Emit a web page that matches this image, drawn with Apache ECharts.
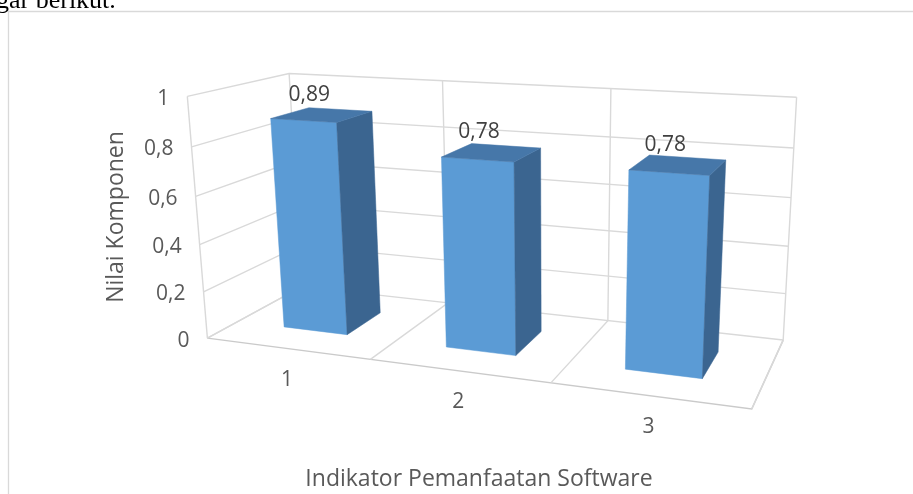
<!DOCTYPE html>
<html>
<head>
<meta charset="utf-8">
<script src="https://cdn.jsdelivr.net/npm/echarts@6/dist/echarts.min.js"></script>
<style>
  html, body { margin: 0; padding: 0; background: #ffffff; }
  #chart { width: 913px; height: 494px; }
</style>
</head>
<body>
<div id="chart"></div>
<script>
// ---- data ----
const categories = ['1', '2', '3'];
const values = [0.89, 0.78, 0.78];
const yTicks = [0, 0.2, 0.4, 0.6, 0.8, 1];
const xAxisTitle = 'Indikator Pemanfaatan Software';
const yAxisTitle = 'Nilai Komponen';

// ---- 3D scene settings ----
// plot box (back wall, side wall, floor) in world units
const BOX = { width: 2.25, height: 1, depth: 0.75 };
const GAP = 1.5;              // gap width and gap depth, 150%
// camera: rotation (degrees), focal length and position
const CAM = { yaw: 19, pitch: 15.5, focal: 1180, cx: 553, cy: 247, dist: 5.5527, panX: -1.182, panY: -0.1865 };

const FONT = '"Open Sans", "Noto Sans", sans-serif';
const GRID_COLOR = '#D9D9D9';
const EDGE_COLOR = '#CACACA';
const TEXT_COLOR = '#595959';
const LABEL_COLOR = '#404040';
const FACE = { front: '#5B9BD5', side: '#3B6590', top: '#4677A9' };

const rad = Math.PI / 180;
function project(X, Y, Z) {
  const cb = Math.cos(CAM.yaw * rad), sb = Math.sin(CAM.yaw * rad);
  const ca = Math.cos(CAM.pitch * rad), sa = Math.sin(CAM.pitch * rad);
  const x1 = X * cb - Z * sb;
  const z1 = X * sb + Z * cb;
  const y2 = Y * ca - z1 * sa;
  const z2 = Y * sa + z1 * ca;
  const depth = CAM.dist - z2;
  return [CAM.cx + CAM.focal * (x1 + CAM.panX) / depth,
          CAM.cy - CAM.focal * (y2 + CAM.panY) / depth];
}

// flat cartesian pixel -> world (X along categories, Y along values)
function toWorld(cs, pt) {
  return [(pt[0] - cs.x) / cs.width * BOX.width,
          (cs.y + cs.height - pt[1]) / cs.height * BOX.height];
}

const fmtValue = v => v.toFixed(2).replace('.', ',');
const fmtTick = v => String(+v.toFixed(1)).replace('.', ',');

function line(points, color, width) {
  return { type: 'polyline', shape: { points }, style: { stroke: color, lineWidth: width, fill: null } };
}
function label(x, y, text, opts) {
  return {
    type: 'text', x, y,
    style: Object.assign({ text, fill: TEXT_COLOR, fontFamily: FONT, fontSize: 21,
                           align: 'center', verticalAlign: 'middle' }, opts || {})
  };
}

// horizontal gridlines on side wall and back wall, plus value tick labels
function renderGridLine(params, api) {
  const cs = params.coordSys;
  const v = api.value(1);
  const Y = toWorld(cs, api.coord([0, v]))[1];
  const W = BOX.width, D = BOX.depth;
  const front = project(0, Y, D);
  const children = [line([front, project(0, Y, 0), project(W, Y, 0)], GRID_COLOR, 1.4)];
  if (v === yTicks[0]) {
    children.push(line([front, project(W, Y, D), project(W, Y, 0)], EDGE_COLOR, 1.5));
  }
  children.push(label(front[0] - 18, front[1] + 2.5, fmtTick(v), { align: 'right' }));
  return { type: 'group', children };
}

// category dividers on back wall and floor, plus category labels
function renderDivider(params, api) {
  const cs = params.coordSys;
  const i = api.value(0);
  const W = BOX.width, D = BOX.depth;
  const [xc, y0] = toWorld(cs, api.coord([i, 0]));
  const yTop = toWorld(cs, api.coord([i, yTicks[yTicks.length - 1]]))[1];
  const band = api.size([1, 0])[0] / cs.width * W;
  const edges = [xc - band / 2];
  if (i === categories.length - 1) edges.push(xc + band / 2);
  const children = [];
  edges.forEach(X => {
    children.push(line([project(X, yTop, 0), project(X, y0, 0), project(X, y0, D)], GRID_COLOR, 1.4));
  });
  if (i === 0) {
    children.push(line([project(0, y0, D), project(0, yTop, D)], GRID_COLOR, 1.4));
  }
  const p = project(xc, y0, D);
  children.push(label(p[0], p[1] + 31.4, categories[i]));
  return { type: 'group', children };
}

// 3D columns: front, right side and top faces, with value label
function renderBar(params, api) {
  const cs = params.coordSys;
  const i = api.value(0), v = api.value(1);
  const [xc, y0] = toWorld(cs, api.coord([i, 0]));
  const y1 = toWorld(cs, api.coord([i, v]))[1];
  const band = api.size([1, 0])[0] / cs.width * BOX.width;
  const halfW = band / (1 + GAP) / 2;
  const halfD = BOX.depth / (1 + GAP) / 2;
  const zMid = BOX.depth / 2;
  const x0 = xc - halfW, x1 = xc + halfW;
  const zf = zMid + halfD, zb = zMid - halfD;
  const poly = (pts, fill) => ({ type: 'polygon', shape: { points: pts.map(p => project(p[0], p[1], p[2])) },
                                 style: { fill, stroke: fill, lineWidth: 0.5 } });
  const top = project(xc, y1, zMid);
  return {
    type: 'group',
    children: [
      poly([[x0, y0, zf], [x1, y0, zf], [x1, y1, zf], [x0, y1, zf]], FACE.front),
      poly([[x1, y0, zf], [x1, y0, zb], [x1, y1, zb], [x1, y1, zf]], FACE.side),
      poly([[x0, y1, zf], [x1, y1, zf], [x1, y1, zb], [x0, y1, zb]], FACE.top),
      label(top[0] - 13, top[1] - 20, fmtValue(v), { fill: LABEL_COLOR })
    ]
  };
}

const chart = echarts.init(document.getElementById('chart'), null, { renderer: 'canvas' });
chart.setOption({
  animation: false,
  backgroundColor: '#ffffff',
  grid: { left: 0, top: 0, width: 600, height: 400, show: false },
  xAxis: { type: 'category', data: categories, show: false },
  yAxis: { type: 'value', min: yTicks[0], max: yTicks[yTicks.length - 1], interval: 0.2, show: false },
  graphic: [
    { type: 'rect', z: -1, shape: { x: 8.5, y: 11.5, width: 1000, height: 600 },
      style: { fill: null, stroke: '#D9D9D9', lineWidth: 1.3 } },
    { type: 'text', x: -4, y: 1,
      style: { text: 'gar berikut.', fill: '#000000', fontFamily: '"Liberation Serif", serif', fontSize: 26,
               align: 'left', verticalAlign: 'middle' } },
    { type: 'text', x: 479, y: 479,
      style: { text: xAxisTitle, fill: TEXT_COLOR, fontFamily: FONT, fontSize: 23,
               align: 'center', verticalAlign: 'middle' } },
    { type: 'text', x: 116, y: 217, rotation: Math.PI / 2,
      style: { text: yAxisTitle, fill: TEXT_COLOR, fontFamily: FONT, fontSize: 23,
               align: 'center', verticalAlign: 'middle' } }
  ],
  series: [
    { type: 'custom', name: 'gridlines', coordinateSystem: 'cartesian2d', silent: true, z: 1,
      data: yTicks.map(v => [0, v]), renderItem: renderGridLine },
    { type: 'custom', name: 'categories', coordinateSystem: 'cartesian2d', silent: true, z: 1,
      data: categories.map((c, i) => [i, 0]), renderItem: renderDivider },
    { type: 'custom', name: 'Nilai Komponen', coordinateSystem: 'cartesian2d', z: 3,
      data: values.map((v, i) => [i, v]), renderItem: renderBar }
  ]
});
</script>
</body>
</html>
